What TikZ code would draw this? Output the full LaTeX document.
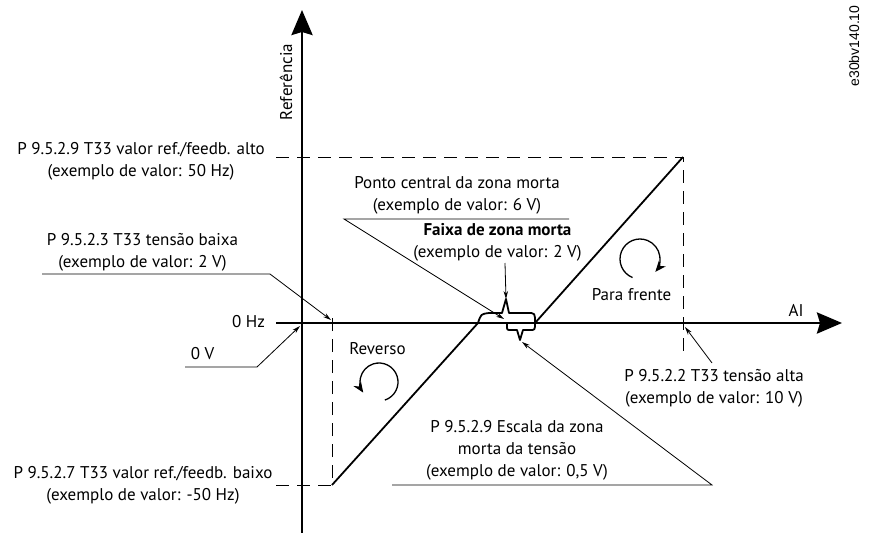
\documentclass[tikz,border=0pt]{standalone}
\usepackage{fontspec}
\setmainfont{PT Sans}
\newfontfamily\codefont{Liberation Sans}
\usetikzlibrary{arrows.meta}

\begin{document}
\begin{tikzpicture}[x=1pt,y=1pt,>=Stealth, every node/.style={font=\fontsize{17}{22}\selectfont, inner sep=0pt, anchor=base}]
\tikzstyle{lbl}=[align=center]
\tikzstyle{axis}=[line width=2.9pt, -{Stealth[length=25pt,width=21pt,inset=3pt]}]
\tikzstyle{curve}=[line width=1.8pt, line join=round]
\tikzstyle{guide}=[line width=0.9pt, dash pattern=on 13pt off 8pt]
\tikzstyle{lead}=[line width=0.8pt, -{Stealth[length=8pt,width=4.5pt]}]
\tikzstyle{turn}=[line width=1.3pt, -{Stealth[length=11pt,width=9pt]}]
\useasboundingbox (0,0) rectangle (871,-533);

% axes
\coordinate (ybot) at (302,-533);
\coordinate (ytop) at (302,-10);
\coordinate (xleft) at (276,-323);
\coordinate (xright) at (842,-323);
\draw[axis] (ybot) -- (ytop);
\draw[axis] (xleft) -- (xright);
\node[rotate=90, anchor=center] (yname) at (286,-82) {Referência};
\node (xname) at (796,-316) {AI};
\node (zerohz) at (248.5,-327.5) {0 Hz};

% limits
\coordinate (lo) at (332,-485);
\coordinate (hi) at (683,-157);
\coordinate (topL) at (276,-157);
\coordinate (hiTick) at (683,-353);
\coordinate (botL) at (276,-485);
\coordinate (loTick) at (332,-315);
\draw[guide] (topL) -- (hi) -- (hiTick);
\draw[guide] (botL) -- (lo) -- (loTick);

% characteristic with dead band
\coordinate (spkU) at (506,-299);
\coordinate (spkD) at (520,-340);
\draw[curve] (lo) -- (478,-323) .. controls (481,-314) .. (489,-313) -- (502,-313)
  -- (spkU) -- (509,-313) -- (528,-313) .. controls (535,-313) .. (535,-323) -- (hi);
\draw[curve] (507,-323) -- (507,-326) .. controls (507,-330) .. (511,-330) -- (517,-330)
  -- (spkD) -- (523,-330) -- (530,-330) .. controls (535,-330) .. (535,-323);

% labels left (base = last line)
\node[lbl] (hiref) at (141,-176.5) {P 9.5.2.9 T33 valor ref./feedb. alto\\(exemplo de valor: 50 Hz)};
\node[lbl] (lotens) at (142.5,-267.5) {P 9.5.2.3 T33 tensão baixa\\(exemplo de valor: 2 V)};
\node (zerov) at (202.5,-359) {0 V};
\node[lbl] (loref) at (143,-500.5) {P 9.5.2.7 T33 valor ref./feedb. baixo\\(exemplo de valor: -50 Hz)};

% labels middle and right
\node[lbl] (ponto) at (457,-210.5) {Ponto central da zona morta\\(exemplo de valor: 6 V)};
\node[lbl] (faixa) at (497.5,-257.5) {\textbf{Faixa de zona morta}\\(exemplo de valor: 2 V)};
\node (para) at (631.5,-300) {Para frente};
\node (rev) at (377.5,-354) {Reverso};
\node[lbl] (hitens) at (714,-403.5) {P 9.5.2.2 T33 tensão alta\\(exemplo de valor: 10 V)};
\node[lbl] (escala) at (517,-476.5) {P 9.5.2.9 Escala da zona\\morta da tensão\\(exemplo de valor: 0,5 V)};
\node[rotate=90, anchor=center, font=\codefont\fontsize{14}{16}\selectfont] (code) at (854,-46) {e30bv140.10};

% leaders
\coordinate (lotensR) at (270,-274);
\coordinate (lotensL) at (42,-274);
\coordinate (lotensTip) at (331,-320);
\draw[lead] (lotensL) -- (lotensR) -- (lotensTip);
\coordinate (zerovR) at (257,-367);
\coordinate (zerovL) at (185,-367);
\coordinate (zerovTip) at (300,-326);
\draw[lead] (zerovL) -- (zerovR) -- (zerovTip);
\coordinate (pontoR) at (569,-219);
\coordinate (pontoL) at (344,-219);
\coordinate (pontoTip) at (504,-319);
\draw[lead] (pontoR) -- (pontoL) -- (pontoTip);
\coordinate (faixaTop) at (505,-263);
\draw[lead] (faixaTop) -- (spkU);
\coordinate (hitensTop) at (712,-363);
\coordinate (hitensTip) at (685,-327);
\draw[lead] (hitensTop) -- (hitensTip);
\coordinate (escalaL) at (392,-485);
\coordinate (escalaR) at (712,-485);
\coordinate (escalaTip) at (522,-342);
\draw[lead] (escalaL) -- (escalaR) -- (escalaTip);

% rotation arrows
\coordinate (revC) at (379,-382);
\coordinate (paraC) at (640,-259);
\draw[turn] ([shift={(-72:19)}]revC) arc[start angle=-72, end angle=214, radius=19];
\draw[turn] ([shift={(248:20)}]paraC) arc[start angle=248, end angle=-40, radius=20];
\end{tikzpicture}
\end{document}
